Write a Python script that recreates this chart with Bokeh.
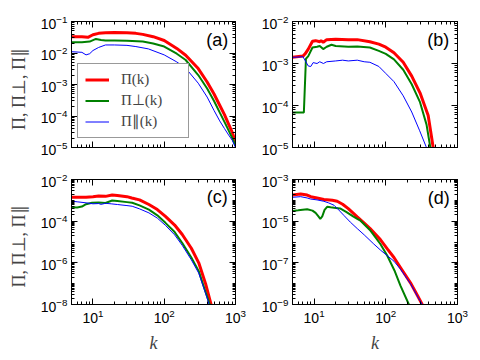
import math
from bokeh.plotting import figure
from bokeh.models import (LogAxis, FixedTicker, CustomJSTickFormatter, LogTickFormatter,
                          Legend, LegendItem, Label, Range1d)
from bokeh.layouts import column, row
from bokeh.embed import file_html
from bokeh.resources import INLINE

# ---------------- data ----------------
# panel (a)
k_a_tot = [5, 7, 8.5, 10, 12, 15, 20, 30, 40, 50, 70, 100, 150, 200, 300, 400, 500, 600, 700, 800, 900, 1000]
v_a_tot = [3.3e-2, 3.3e-2, 3.15e-2, 3.8e-2, 4.2e-2, 4.4e-2, 4.5e-2, 4.4e-2, 4.2e-2, 3.9e-2, 3.3e-2, 2.5e-2,
           1.4e-2, 8.5e-3, 3.2e-3, 1.2e-3, 5e-4, 2.2e-4, 1.1e-4, 5.5e-5, 3e-5, 1.5e-5]
k_a_perp = [5, 7, 9, 11, 13, 15, 20, 30, 50, 70, 100, 150, 200, 300, 400, 500, 600, 700, 800, 900, 1000]
v_a_perp = [2.2e-2, 2.2e-2, 2.3e-2, 2.8e-2, 2.6e-2, 2.5e-2, 2.5e-2, 2.45e-2, 2.3e-2, 2.0e-2, 1.6e-2, 9.5e-3,
            6e-3, 2e-3, 7.5e-4, 3e-4, 1.3e-4, 6.5e-5, 3.5e-5, 2e-5, 1.15e-5]
k_a_par = [5, 7, 8, 9, 10, 12, 15, 20, 30, 40, 60, 100, 150, 200, 300, 400, 500, 600, 700, 800, 900, 1000]
v_a_par = [1.1e-2, 1.05e-2, 8.7e-3, 9.5e-3, 1.2e-2, 1.5e-2, 1.8e-2, 1.8e-2, 1.75e-2, 1.6e-2, 1.35e-2, 8.7e-3,
           5.2e-3, 3.3e-3, 1.1e-3, 4e-4, 1.5e-4, 7e-5, 4e-5, 2.5e-5, 1.7e-5, 1.0e-5]

# panel (b)
k_b_tot = [5, 7, 7.5, 8.3, 9.5, 10.5, 12, 12.5, 13.4, 15, 20, 30, 40, 60, 80, 100, 130, 175, 230, 300, 390, 458, 490]
v_b_tot = [1.4e-3, 1.5e-3, 1.7e-3, 2.2e-3, 3.4e-3, 3.5e-3, 3.3e-3, 3.5e-3, 3.2e-3, 3.7e-3, 3.8e-3, 3.7e-3,
           3.7e-3, 3.3e-3, 2.9e-3, 2.45e-3, 1.8e-3, 1.07e-3, 5e-4, 2e-4, 5.8e-5, 1e-5, 5e-6]
k_b_perp = [5, 7.2, 7.7, 8.3, 9.5, 11, 12, 13.4, 15, 17.5, 20, 30, 40, 60, 80, 100, 130, 175, 230, 300, 370, 418, 450]
v_b_perp = [6.8e-5, 6.8e-5, 1.3e-3, 1.5e-3, 2.4e-3, 2.5e-3, 2.6e-3, 2.2e-3, 2.5e-3, 2.8e-3, 2.6e-3, 2.5e-3,
            2.55e-3, 2.4e-3, 2.0e-3, 1.7e-3, 1.25e-3, 7.1e-4, 3.2e-4, 1.2e-4, 3.5e-5, 1e-5, 5e-6]
k_b_par = [5, 7, 8.3, 9, 9.7, 11, 12, 13.5, 15, 20, 25, 30, 40, 50, 60, 80, 100, 130, 175, 230, 297, 369, 400]
v_b_par = [1.4e-3, 1.45e-3, 8.7e-4, 8.5e-4, 1.05e-3, 1.0e-3, 1.1e-3, 1.0e-3, 1.1e-3, 1.15e-3, 1.2e-3, 1.15e-3,
           1.2e-3, 1.1e-3, 1.07e-3, 8.5e-4, 5.8e-4, 3.7e-4, 1.7e-4, 7e-5, 2.5e-5, 1e-5, 6e-6]

# panel (c)
k_c_tot = [5, 8, 10, 12, 15, 18.6, 22, 30, 35, 45, 61, 80, 104, 140, 179, 240, 305, 380, 454, 480]
v_c_tot = [1.4e-3, 1.4e-3, 1.5e-3, 1.6e-3, 1.55e-3, 1.8e-3, 1.7e-3, 1.5e-3, 1.3e-3, 1.05e-3, 6.3e-4, 3.6e-4,
           1.7e-4, 6.5e-5, 2.3e-5, 5e-6, 1e-6, 1e-7, 1e-8, 5e-9]
k_c_perp = [5, 6, 7, 8, 9.7, 12, 15, 18.6, 22, 30, 35.5, 45, 61, 80, 104, 140, 179, 240, 305, 380, 436, 460]
v_c_perp = [4.7e-4, 4.5e-4, 5e-4, 6.5e-4, 7.6e-4, 7.8e-4, 7.5e-4, 9.8e-4, 9.3e-4, 8.2e-4, 7.6e-4, 5.7e-4,
            3.6e-4, 1.9e-4, 8.3e-5, 3e-5, 9e-6, 1.8e-6, 4e-7, 4e-8, 1e-8, 4e-9]
k_c_par = [5, 6, 8, 10, 12, 13, 15, 18, 22, 30, 35.5, 45, 61, 80, 104, 140, 179, 240, 305, 380, 427, 450]
v_c_par = [9.1e-4, 8.5e-4, 7.6e-4, 6.8e-4, 7e-4, 6.4e-4, 7.2e-4, 6.8e-4, 6.3e-4, 5.6e-4, 5.2e-4, 3.9e-4,
           2.5e-4, 1.4e-4, 6.3e-5, 2.2e-5, 6.9e-6, 1.4e-6, 3.2e-7, 3.5e-8, 1e-8, 4e-9]

# panel (d)
k_d_tot = [5, 6.5, 8, 9, 11, 13.7, 18, 21, 25, 30, 40, 50, 60, 84, 105, 130, 160, 221, 280, 322, 340]
v_d_tot = [1.8e-4, 2e-4, 1.8e-4, 1.5e-4, 1.3e-4, 1.1e-4, 1e-4, 9e-5, 6.5e-5, 4e-5, 1.6e-5, 8e-6, 4.5e-6,
           1.3e-6, 4.7e-7, 1.8e-7, 6e-8, 1.1e-8, 2.5e-9, 1e-9, 6e-10]
k_d_perp = [5, 6, 8, 9.5, 10.5, 11.5, 12.2, 13, 14, 15.2, 17, 19, 23, 28, 35, 40, 44.5, 60, 84, 105, 132, 160, 210, 230]
v_d_perp = [3.1e-5, 3.3e-5, 3.7e-5, 3.2e-5, 2.5e-5, 1.7e-5, 1.3e-5, 1.7e-5, 3.5e-5, 4.9e-5, 4.6e-5, 4.4e-5,
            4.1e-5, 2.8e-5, 1.7e-5, 1.3e-5, 1.05e-5, 3.8e-6, 8e-7, 2.2e-7, 4.3e-8, 8e-9, 1e-9, 5e-10]
k_d_par = [5, 6.5, 8, 9, 11, 13.7, 16, 19, 22, 26, 32, 40, 50, 68, 85, 105, 130, 160, 221, 280, 322, 340]
v_d_par = [1.4e-4, 1.5e-4, 1.3e-4, 1.15e-4, 1.05e-4, 9e-5, 7.5e-5, 5.8e-5, 3.5e-5, 1.9e-5, 9e-6, 4.4e-6,
           2.2e-6, 8e-7, 4e-7, 2.2e-7, 1.2e-7, 5e-8, 1e-8, 2.3e-9, 1e-9, 6e-10]

panel_names = ["(a)", "(b)", "(c)", "(d)"]
y_limits = [(1e-5, 1e-1), (1e-5, 1e-2), (1e-8, 1e-2), (1e-9, 1e-3)]
y_major = [[1e-5, 1e-4, 1e-3, 1e-2, 1e-1],
           [1e-5, 1e-4, 1e-3, 1e-2],
           [1e-8, 1e-6, 1e-4, 1e-2],
           [1e-9, 1e-7, 1e-5, 1e-3]]
x_major = [10, 100, 1000]
legend_labels = ["Π(k)", "Π⊥(k)", "Π∥(k)"]
y_label = "Π,  Π⊥,  Π∥"
x_label = "k"

colors = ["#ff0000", "#008000", "#0000ff"]
widths = [3, 2, 1]


def minor_list(lo_exp, hi_exp, majors):
    out = []
    for e in range(lo_exp, hi_exp + 1):
        for m in range(1, 10):
            v = m * 10.0 ** e
            if any(abs(v - M) / M < 1e-9 for M in majors):
                continue
            out.append(v)
    return out


def style_axis(ax, ticker, show_labels):
    ax.ticker = ticker
    ax.major_tick_in = 6
    ax.major_tick_out = 0
    ax.minor_tick_in = 3
    ax.minor_tick_out = 0
    ax.axis_line_color = "black"
    ax.major_tick_line_color = "black"
    ax.minor_tick_line_color = "black"
    if show_labels:
        ax.formatter = LogTickFormatter()
        ax.major_label_text_font = "Liberation Sans"
        ax.major_label_text_font_size = "14px"
        ax.major_label_text_color = "black"
        ax.major_label_standoff = 4
    else:
        ax.formatter = CustomJSTickFormatter(code="return '';")
        ax.major_label_text_font_size = "0px"
        ax.major_label_standoff = 0


def make_panel(idx, series, width, height, bl, br, bt, bb, show_x, show_ylabel, label_pos, legend=False):
    lo, hi = y_limits[idx]
    p = figure(width=width, height=height, x_axis_type="log", y_axis_type="log",
               x_range=Range1d(5, 1000), y_range=Range1d(lo, hi),
               output_backend="svg", toolbar_location=None,
               min_border_left=bl, min_border_right=br, min_border_top=bt, min_border_bottom=bb)
    p.grid.visible = False
    p.outline_line_color = "black"
    p.background_fill_color = "white"
    p.border_fill_color = "white"

    xax = p.below[0]
    yax = p.left[0]

    lo_e = int(round(math.log10(lo)))
    hi_e = int(round(math.log10(hi)))
    ymaj = y_major[idx]
    ymin = minor_list(lo_e, hi_e - 1, ymaj)
    xmin = [v for v in minor_list(0, 2, x_major) if v >= 5]

    style_axis(xax, FixedTicker(ticks=x_major, minor_ticks=xmin), show_x)
    style_axis(yax, FixedTicker(ticks=ymaj, minor_ticks=ymin), True)

    top = LogAxis()
    style_axis(top, FixedTicker(ticks=x_major, minor_ticks=xmin), False)
    p.add_layout(top, "above")
    right = LogAxis()
    style_axis(right, FixedTicker(ticks=ymaj, minor_ticks=ymin), False)
    p.add_layout(right, "right")

    if show_x:
        xax.axis_label = x_label
        xax.axis_label_text_font = "Liberation Serif"
        xax.axis_label_text_font_style = "italic"
        xax.axis_label_text_font_size = "18px"
        xax.axis_label_standoff = 7
    if show_ylabel:
        yax.axis_label = y_label
        yax.axis_label_text_font = "Liberation Serif"
        yax.axis_label_text_font_style = "normal"
        yax.axis_label_text_font_size = "18px"
        yax.axis_label_standoff = 9

    rends = []
    for (kk, vv), c, w in zip(series, colors, widths):
        rends.append(p.line(kk, vv, line_color=c, line_width=w))

    p.add_layout(Label(x=label_pos[0], y=label_pos[1], text=panel_names[idx],
                       text_align="right", text_baseline="middle",
                       text_font="Liberation Sans", text_font_size="18px", text_color="black"))

    if legend:
        items = [LegendItem(label=lab + "\u00a0" * 5, renderers=[r]) for lab, r in zip(legend_labels, rends)]
        lg = Legend(items=items, location=(6, 9))
        lg.border_line_color = "#333333"
        lg.border_line_width = 1
        lg.background_fill_color = "white"
        lg.background_fill_alpha = 1
        lg.label_text_font = "Liberation Serif"
        lg.label_text_font_size = "15px"
        lg.glyph_width = 24
        lg.glyph_height = 17
        lg.label_height = 17
        lg.spacing = 3
        lg.padding = 7
        lg.margin = 0
        lg.label_standoff = 12
        p.add_layout(lg, "center")
    return p


pa = make_panel(0, [(k_a_tot, v_a_tot), (k_a_perp, v_a_perp), (k_a_par, v_a_par)],
                250, 164, 71, 15, 21, 17, False, True, (790, 10 ** -1.6), legend=True)
pb = make_panel(1, [(k_b_tot, v_b_tot), (k_b_perp, v_b_perp), (k_b_par, v_b_par)],
                222, 164, 42, 15, 21, 17, False, False, (770, 10 ** -2.45))
pc = make_panel(2, [(k_c_tot, v_c_tot), (k_c_perp, v_c_perp), (k_c_par, v_c_par)],
                250, 191, 71, 15, 15, 51, True, True, (780, 10 ** -2.84))
pd = make_panel(3, [(k_d_tot, v_d_tot), (k_d_perp, v_d_perp), (k_d_par, v_d_par)],
                222, 191, 42, 15, 15, 51, True, False, (780, 10 ** -3.87))

layout = column(row(pa, pb), row(pc, pd))
open("out.html", "w").write(file_html(layout, INLINE))
